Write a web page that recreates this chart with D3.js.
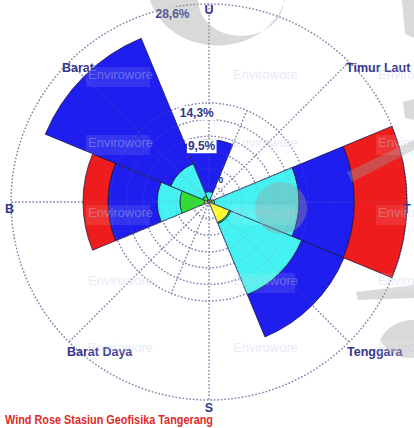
<!DOCTYPE html>
<html>
<head>
<meta charset="utf-8">
<script src="https://cdn.jsdelivr.net/npm/d3@7/dist/d3.min.js"></script>
<style>
  html, body { margin: 0; padding: 0; background: #ffffff; }
  svg { display: block; }
</style>
</head>
<body>
<svg id="rose" width="414" height="428"></svg>
<script>
// Wind directions (Indonesian compass names), clockwise from north
const directions = ["U", "Timur Laut", "T", "Tenggara", "S", "Barat Daya", "B", "Barat Laut"];
const directionAngles = [0, 45, 90, 135, 180, 225, 270, 315];

// Frequency (%) per wind-speed class, one value per direction
const speedClasses = ["kelas 1", "kelas 2", "kelas 3", "kelas 4", "kelas 5"];
const class1 = [0.0, 0.4, 0.3, 3.2, 0.3, 0.3, 0.7, 0.3];   // yellow
const class2 = [0.3, 0.0, 0.5, 0.2, 0.0, 0.0, 3.5, 0.7];   // green
const class3 = [1.2, 0.0, 12.2, 11.1, 0.0, 0.0, 3.3, 5.0]; // cyan
const class4 = [7.5, 0.0, 8.0, 6.6, 0.0, 0.0, 7.1, 19.6];  // blue
const class5 = [0.0, 0.0, 7.6, 0.0, 0.0, 0.0, 3.6, 0.0];   // red
const classColors = ["#ffff33", "#33dd33", "#44f2f2", "#1e1eee", "#ee1c1c"];

// Radial grid: fine rings up to half the scale, plus the outer ring
const ringValues = [2.4, 4.8, 7.2, 9.5, 11.9, 14.3, 28.6];
const ringLabelValues = [4.8, 9.5, 14.3, 28.6];
const ringLabels = ["4,8%", "9,5%", "14,3%", "28,6%"];

const title = "Wind Rose Stasiun Geofisika Tangerang";
const watermark = "Envirowore";

const svg = d3.select("#rose");
const cx = 209, cy = 202, R = 198;
const deg = Math.PI / 180;

const r = d3.scaleLinear().domain([0, 28.6]).range([0, R]);
const rMax = r.domain()[1];
const rInner = 14.3;
const classValues = [class1, class2, class3, class4, class5];
const totals = directions.map((d, i) => d3.sum(classValues, vals => vals[i]));

const root = svg.append("g").attr("transform", `translate(${cx},${cy})`);
const gridColor = "#8585ad";

function drawGrid(g, opacity) {
  g.selectAll("circle.ring").data(ringValues).join("circle")
    .attr("class", "ring")
    .attr("r", d => r(d))
    .attr("fill", "none")
    .attr("stroke", gridColor)
    .attr("stroke-width", 1.4)
    .attr("stroke-dasharray", "1.6,1.9")
    .attr("opacity", opacity);
  // main compass spokes reach the outer ring, the in-between ones stop at the inner rings
  const spokes = d3.range(16).map(i => i * 22.5);
  g.selectAll("line.spoke").data(spokes).join("line")
    .attr("class", "spoke")
    .attr("x1", 0).attr("y1", 0)
    .attr("x2", d => Math.sin(d * deg) * r(d % 45 === 0 ? rMax : rInner))
    .attr("y2", d => -Math.cos(d * deg) * r(d % 45 === 0 ? rMax : rInner))
    .attr("stroke", gridColor)
    .attr("stroke-width", 1.4)
    .attr("stroke-dasharray", "1.6,1.9")
    .attr("opacity", opacity);
}

// Grid underneath the petals
drawGrid(root.append("g"), 1);

// Direction labels: placed at the outer ring; those whose petal reaches the
// ring are drawn over the petals, the rest beneath them
const labelFont = "'Liberation Sans', Arial, sans-serif";
function styleLabels(g) {
  return g.attr("font-family", labelFont)
    .attr("font-weight", "bold")
    .attr("font-size", 12.5)
    .attr("fill", "#34348c");
}
const dirLabelUnder = styleLabels(root.append("g"));
function drawDirLabel(g, i) {
  const name = directions[i];
  const ang = directionAngles[i];
  const a = ang * deg;
  const x = Math.sin(a) * r(rMax);
  const y = -Math.cos(a) * r(rMax);
  const t = g.append("text").text(name);
  if (ang === 0) {
    t.attr("x", x).attr("y", y + 10).attr("text-anchor", "middle");
  } else if (ang === 180) {
    t.attr("x", x).attr("y", y + 12).attr("text-anchor", "middle");
  } else if (ang === 90) {
    t.attr("x", x - 4).attr("y", y + 11).attr("text-anchor", "start");
  } else if (ang === 270) {
    t.attr("x", x - 6).attr("y", y + 11).attr("text-anchor", "start");
  } else if (ang === 315) {
    t.attr("x", x - 7).attr("y", y + 10).attr("text-anchor", "start");
  } else if (ang === 45) {
    t.attr("x", x - 3).attr("y", y + 10).attr("text-anchor", "start");
  } else {
    t.attr("x", x - 2).attr("y", y + 14).attr("text-anchor", "start");
  }
}
directions.forEach((d, i) => { if (totals[i] < rMax - 0.05) drawDirLabel(dirLabelUnder, i); });

// Ring value label helper (white box behind the text)
function ringLabel(g, v, text) {
  const rr = r(v);
  const x = -5 - 0.245 * rr;
  const y = -rr + 14;
  const grp = g.append("g")
    .attr("font-family", labelFont)
    .attr("font-weight", "bold")
    .attr("font-size", 12)
    .attr("fill", "#34348c");
  const t = grp.append("text").attr("x", x).attr("y", y).text(text);
  const bb = t.node().getBBox();
  grp.insert("rect", "text")
    .attr("x", bb.x - 1).attr("y", bb.y)
    .attr("width", bb.width + 2).attr("height", bb.height)
    .attr("fill", "#ffffff");
}

// The innermost label sits beneath the petals
ringLabel(root.append("g"), ringLabelValues[0], ringLabels[0]);

// Stacked petals, 45 degrees wide, centred on each direction
const arc = d3.arc();
const petals = [];
directions.forEach((name, i) => {
  let inner = 0;
  classValues.forEach((vals, k) => {
    const v = vals[i];
    if (v <= 0) return;
    petals.push({
      innerRadius: r(inner),
      outerRadius: r(inner + v),
      startAngle: (directionAngles[i] - 22.5) * deg,
      endAngle: (directionAngles[i] + 22.5) * deg,
      color: classColors[k]
    });
    inner += v;
  });
});
root.append("g").selectAll("path").data(petals).join("path")
  .attr("d", arc)
  .attr("fill", d => d.color)
  .attr("stroke", "#101040")
  .attr("stroke-width", 0.7);

// Faint grid over the petals
drawGrid(root.append("g"), 0.22);

// Labels of directions whose petal fills the whole ring
const dirLabelOver = styleLabels(root.append("g"));
directions.forEach((d, i) => { if (totals[i] >= rMax - 0.05) drawDirLabel(dirLabelOver, i); });

// Remaining ring labels drawn above the petals
const ringTop = root.append("g");
ringLabelValues.slice(1).forEach((v, i) => ringLabel(ringTop, v, ringLabels[i + 1]));

// Translucent logo shapes of the background watermark
const logo = svg.append("g").attr("fill", "#9a9a9a").attr("fill-opacity", 0.38);
logo.append("path")
  .attr("fill-rule", "evenodd")
  .attr("d", "M150,0 A70,62 0 0 0 285,0 Z M198,0 A43,36 0 0 0 284,0 Z");
logo.append("circle").attr("cx", 281).attr("cy", 208).attr("r", 26);
logo.append("path").attr("d", "M347,172 L414,140 L414,150 L352,182 Z");
logo.append("path").attr("d", "M402,0 L414,0 L414,38 L405,34 Z");
logo.append("path").attr("d", "M403,102 L414,99 L414,120 L405,118 Z");
logo.append("path").attr("d", "M356,292 L414,285 L414,298 L358,300 Z");
logo.append("path").attr("d", "M414,320 A36,36 0 0 0 380,340 A36,36 0 0 0 414,358 Z");

// Watermark text grid
const wm = svg.append("g")
  .attr("font-family", labelFont)
  .attr("font-size", 13);
const wmCols = [88, 233, 378];
const wmRows = [79, 147, 217, 285, 352];
wmCols.forEach(x => wmRows.forEach(y => {
  wm.append("rect").attr("x", x - 2).attr("y", y - 12).attr("width", 64).attr("height", 20)
    .attr("fill", "#ffffff").attr("fill-opacity", 0.1);
  wm.append("text").attr("x", x).attr("y", y).text(watermark)
    .attr("fill", "#c4c8e4").attr("fill-opacity", 0.4);
}));

// Title
svg.append("text")
  .attr("x", 5).attr("y", 424)
  .attr("font-family", labelFont)
  .attr("font-weight", "bold")
  .attr("font-size", 12)
  .attr("fill", "#e02a2a")
  .attr("textLength", 208)
  .attr("lengthAdjust", "spacingAndGlyphs")
  .text(title);
</script>
</body>
</html>
